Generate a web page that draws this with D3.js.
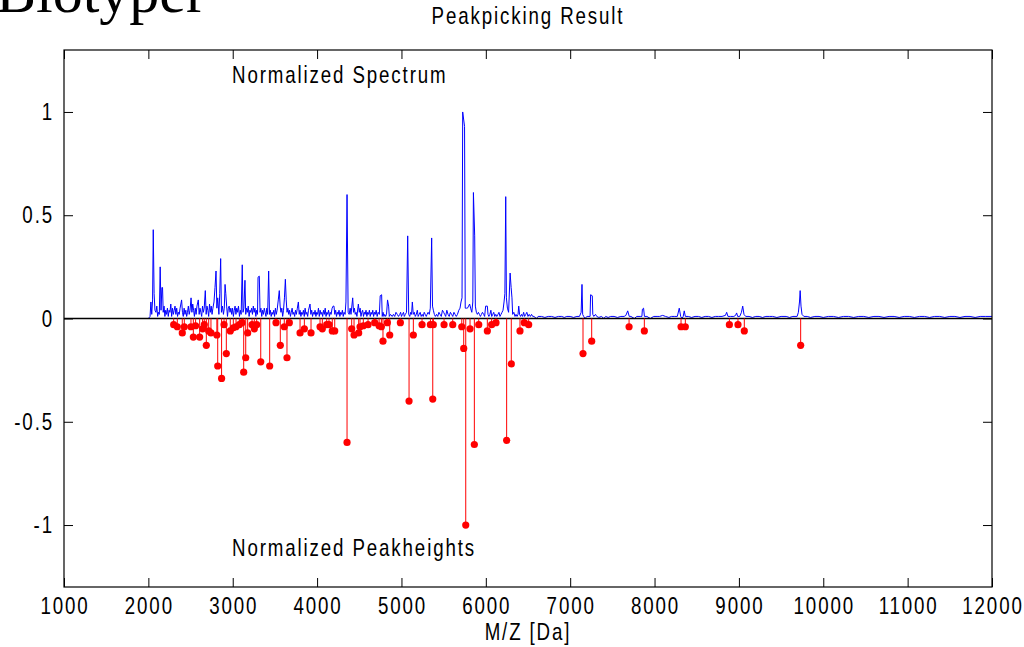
<!DOCTYPE html>
<html>
<head>
<meta charset="utf-8">
<script src="https://cdn.jsdelivr.net/npm/d3@7"></script>
<style>
  html, body { margin: 0; padding: 0; background: #fff; }
  svg { display: block; }
</style>
</head>
<body>
<div id="chart"></div>
<script>
// Tick values
const xTicks = [1000, 2000, 3000, 4000, 5000, 6000, 7000, 8000, 9000, 10000, 11000, 12000];
const yTicks = [-1, -0.5, 0, 0.5, 1];

// Normalized spectrum, [m/z, intensity]
const spectrum = [
  [2000, 0], [2020, 0.01], [2030, 0.08], [2040, 0.02], [2050, 0.09], [2058, 0.43], [2068, 0.12], [2078, 0.04],
  [2090, 0.03], [2100, 0.06], [2110, 0.01], [2120, 0.03], [2130, 0.02], [2140, 0.25], [2150, 0.04], [2160, 0.15],
  [2168, 0.15], [2176, 0.03], [2186, 0.06], [2196, 0.01], [2206, 0.04], [2216, 0.02], [2226, 0.05], [2236, 0.01],
  [2246, 0.04], [2256, 0.03], [2266, 0.07], [2276, 0.01], [2286, 0.05], [2296, 0.02], [2306, 0.04], [2316, 0.06],
  [2326, 0.02], [2336, 0.05], [2346, 0.01], [2356, 0.03], [2366, 0.02], [2376, 0.05], [2394, 0.09], [2404, 0.03],
  [2414, 0.01], [2424, 0.05], [2434, 0.02], [2444, 0.04], [2454, 0.01], [2464, 0.03], [2474, 0.06], [2484, 0.02],
  [2494, 0.04], [2506, 0.1], [2516, 0.03], [2526, 0.07], [2536, 0.04], [2546, 0.01], [2556, 0.05], [2566, 0.02],
  [2576, 0.06], [2592, 0.09], [2602, 0.02], [2612, 0.05], [2622, 0.03], [2632, 0.01], [2642, 0.06], [2652, 0.03],
  [2662, 0.05], [2675, 0.135], [2685, 0.02], [2695, 0.06], [2705, 0.04], [2715, 0.01], [2725, 0.07], [2735, 0.03],
  [2745, 0.06], [2755, 0.02], [2765, 0.05], [2778, 0.08], [2790, 0.15], [2802, 0.23], [2812, 0.05], [2822, 0.1],
  [2836, 0.02], [2846, 0.12], [2857, 0.29], [2866, 0.03], [2878, 0.06], [2890, 0.02], [2900, 0.05], [2909, 0.165],
  [2918, 0.12], [2928, 0.06], [2938, 0.01], [2948, 0.05], [2958, 0.06], [2968, 0.03], [2978, 0.05], [2988, 0.02],
  [2998, 0.05], [3008, 0.01], [3018, 0.04], [3028, 0.06], [3038, 0.02], [3048, 0.05], [3058, 0.03], [3068, 0.06],
  [3080, 0.01], [3090, 0.04], [3100, 0.02], [3113, 0.26], [3122, 0.03], [3132, 0.05], [3145, 0.185], [3154, 0.02],
  [3164, 0.05], [3174, 0.03], [3184, 0.06], [3194, 0.01], [3204, 0.04], [3214, 0.03], [3224, 0.05], [3234, 0.02],
  [3244, 0.06], [3254, 0.03], [3264, 0.05], [3274, 0.01], [3284, 0.04], [3294, 0.02], [3300, 0.2], [3315, 0.205],
  [3324, 0.03], [3334, 0.05], [3344, 0.01], [3354, 0.04], [3364, 0.02], [3374, 0.05], [3384, 0.03], [3394, 0.01],
  [3404, 0.05], [3414, 0.02], [3426, 0.23], [3436, 0.02], [3446, 0.04], [3456, 0.01], [3466, 0.03], [3476, 0.02],
  [3486, 0.04], [3496, 0.01], [3506, 0.05], [3516, 0.02], [3526, 0.04], [3540, 0.09], [3552, 0.135], [3562, 0.06],
  [3572, 0.03], [3582, 0.05], [3592, 0.01], [3602, 0.04], [3613, 0.1], [3624, 0.19], [3634, 0.09], [3644, 0.03],
  [3654, 0.05], [3664, 0.02], [3674, 0.04], [3684, 0.01], [3694, 0.03], [3704, 0.05], [3714, 0.02], [3724, 0.03],
  [3734, 0.01], [3744, 0.04], [3754, 0.02], [3766, 0.05], [3778, 0.08], [3788, 0.02], [3798, 0.04], [3808, 0.01],
  [3818, 0.03], [3828, 0.02], [3838, 0.04], [3848, 0.01], [3858, 0.05], [3868, 0.02], [3878, 0.03], [3888, 0.01],
  [3898, 0.04], [3916, 0.07], [3926, 0.02], [3936, 0.04], [3946, 0.01], [3956, 0.03], [3966, 0.02], [3976, 0.04],
  [3986, 0.01], [3996, 0.03], [4006, 0.02], [4016, 0.05], [4026, 0.01], [4036, 0.04], [4046, 0.02], [4056, 0.03],
  [4066, 0.01], [4076, 0.04], [4086, 0.02], [4096, 0.05], [4106, 0.01], [4116, 0.03], [4126, 0.02], [4136, 0.04],
  [4146, 0.01], [4156, 0.03], [4166, 0.02], [4178, 0.05], [4190, 0.06], [4200, 0.06], [4210, 0.02], [4220, 0.04],
  [4230, 0.01], [4240, 0.03], [4250, 0.02], [4260, 0.04], [4270, 0.01], [4280, 0.03], [4290, 0.02], [4300, 0.04],
  [4310, 0.01], [4320, 0.03], [4332, 0.02], [4342, 0.08], [4355, 0.6], [4368, 0.03], [4380, 0.02], [4392, 0.05],
  [4402, 0.02], [4422, 0.1], [4432, 0.03], [4442, 0.05], [4452, 0.02], [4462, 0.03], [4472, 0.01], [4489, 0.07],
  [4500, 0.03], [4510, 0.05], [4520, 0.01], [4530, 0.03], [4540, 0.04], [4550, 0.01], [4560, 0.03], [4570, 0.02],
  [4580, 0.04], [4590, 0.01], [4600, 0.03], [4610, 0.02], [4620, 0.04], [4630, 0.01], [4640, 0.03], [4650, 0.02],
  [4660, 0.04], [4670, 0.01], [4680, 0.03], [4690, 0.02], [4700, 0.04], [4712, 0.01], [4724, 0.03], [4738, 0.02],
  [4748, 0.11], [4765, 0.115], [4772, 0.01], [4782, 0.03], [4792, 0.01], [4802, 0.02], [4812, 0.01], [4823, 0.02],
  [4835, 0.09], [4848, 0.06], [4856, 0.01], [4870, 0.02], [4890, 0.01], [4905, 0.02], [4920, 0.01], [4935, 0.03],
  [4950, 0.02], [4965, 0.01], [4980, 0.02], [4990, 0.03], [5000, 0.01], [5012, 0.02], [5024, 0.03], [5034, 0.01],
  [5046, 0.02], [5060, 0.03], [5074, 0.4], [5086, 0.02], [5098, 0.01], [5110, 0.03], [5120, 0.02], [5129, 0.08],
  [5140, 0.02], [5152, 0.03], [5164, 0.01], [5176, 0.02], [5188, 0.04], [5198, 0.01], [5210, 0.02], [5222, 0.03],
  [5234, 0.01], [5246, 0.02], [5258, 0.01], [5270, 0.03], [5282, 0.02], [5294, 0.01], [5304, 0.02], [5316, 0.03],
  [5330, 0.02], [5342, 0.05], [5358, 0.39], [5368, 0.06], [5378, 0.04], [5390, 0.02], [5402, 0.01], [5416, 0.02],
  [5430, 0.01], [5444, 0.03], [5458, 0.02], [5472, 0.01], [5486, 0.04], [5500, 0.03], [5512, 0.02], [5524, 0.01],
  [5538, 0.04], [5552, 0.02], [5566, 0.01], [5580, 0.03], [5594, 0.02], [5608, 0.01], [5622, 0.03], [5636, 0.02],
  [5650, 0.01], [5664, 0.02], [5680, 0.04], [5694, 0.05], [5706, 0.08], [5718, 0.1], [5726, 1.0], [5748, 0.93],
  [5756, 0.05], [5770, 0.05], [5782, 0.05], [5796, 0.06], [5808, 0.07], [5820, 0.05], [5834, 0.03], [5846, 0.08],
  [5853, 0.61], [5868, 0.4], [5876, 0.06], [5888, 0.03], [5900, 0.02], [5912, 0.03], [5924, 0.02], [5936, 0.01],
  [5948, 0.02], [5960, 0.03], [5974, 0.02], [5986, 0.01], [5998, 0.06], [6018, 0.06], [6026, 0.02], [6036, 0.01],
  [6048, 0.02], [6060, 0.04], [6070, 0.01], [6082, 0.02], [6094, 0.03], [6106, 0.01], [6118, 0.02], [6130, 0.01],
  [6144, 0.02], [6156, 0.03], [6168, 0.01], [6180, 0.02], [6192, 0.03], [6204, 0.04], [6216, 0.08], [6226, 0.12],
  [6236, 0.59], [6244, 0.1], [6256, 0.05], [6270, 0.03], [6288, 0.22], [6300, 0.15], [6310, 0.1], [6318, 0.02],
  [6332, 0.03], [6346, 0.01], [6358, 0.02], [6370, 0.01], [6382, 0.02], [6390, 0.06], [6400, 0.02], [6412, 0.01],
  [6424, 0.02], [6436, 0.01], [6448, 0.03], [6460, 0.01], [6474, 0.02], [6486, 0.03], [6500, 0.01], [6514, 0.02],
  [6528, 0.01], [6542, 0.02], [6556, 0.01], [6570, 0.01], [6600, 0], [6620, 0.01], [6660, 0.01], [6700, 0.005],
  [6740, 0.01], [6780, 0.01], [6820, 0.005], [6860, 0.01], [6900, 0.01], [6930, 0.005], [6960, 0.01], [7000, 0.01],
  [7040, 0.005], [7080, 0.01], [7110, 0.01], [7130, 0.03], [7140, 0.165], [7148, 0.02], [7160, 0.01], [7175, 0],
  [7200, 0.01], [7236, 0.01], [7242, 0.115], [7262, 0.11], [7268, 0.02], [7280, 0.01], [7300, 0.02], [7315, 0.01],
  [7340, 0.005], [7370, 0.01], [7400, 0], [7420, 0.01], [7450, 0.005], [7480, 0.01], [7520, 0.01], [7560, 0.005],
  [7600, 0.01], [7640, 0.01], [7660, 0.015], [7682, 0.037], [7700, 0.01], [7720, 0.01], [7760, 0], [7790, 0.01],
  [7830, 0.01], [7850, 0.01], [7856, 0.045], [7870, 0.05], [7880, 0.01], [7910, 0.01], [7950, 0], [7990, 0.01],
  [8030, 0.01], [8060, 0.01], [8096, 0.015], [8130, 0.01], [8170, 0.005], [8200, 0.01], [8240, 0.01], [8270, 0.01],
  [8293, 0.05], [8310, 0.01], [8325, 0], [8340, 0.01], [8352, 0.037], [8365, 0.01], [8400, 0.01], [8440, 0.005],
  [8480, 0.01], [8520, 0.01], [8560, 0.005], [8600, 0.01], [8640, 0.01], [8680, 0.005], [8720, 0.01], [8760, 0.01],
  [8800, 0.01], [8840, 0.015], [8855, 0.03], [8870, 0.01], [8900, 0.01], [8940, 0.01], [8960, 0.015], [8973, 0.027],
  [8985, 0.01], [9010, 0.01], [9030, 0.03], [9045, 0.06], [9060, 0.02], [9080, 0.01], [9120, 0.01], [9160, 0.005],
  [9200, 0.01], [9240, 0.01], [9280, 0.005], [9320, 0.01], [9360, 0.01], [9400, 0.01], [9450, 0.005], [9500, 0.01],
  [9560, 0.01], [9600, 0.005], [9640, 0.01], [9690, 0.01], [9705, 0.03], [9718, 0.08], [9726, 0.135], [9736, 0.06],
  [9748, 0.02], [9770, 0.01], [9810, 0.01], [9850, 0.005], [9900, 0.01], [9950, 0.01], [10000, 0.005], [10060, 0.01],
  [10120, 0.01], [10180, 0.005], [10240, 0.01], [10300, 0.01], [10360, 0.005], [10420, 0.01], [10480, 0.01], [10540, 0.005],
  [10600, 0.01], [10660, 0.01], [10720, 0.005], [10780, 0.01], [10840, 0.01], [10900, 0.005], [10960, 0.01], [11020, 0.01],
  [11080, 0.005], [11140, 0.01], [11200, 0.01], [11260, 0.005], [11320, 0.01], [11380, 0.01], [11440, 0.005], [11500, 0.01],
  [11560, 0.01], [11620, 0.005], [11680, 0.01], [11740, 0.01], [11800, 0.005], [11860, 0.01], [11920, 0.01], [12000, 0.01]
];

// Picked peaks, [m/z, normalized height] (drawn downwards)
const peaks = [
  [2300, 0.03], [2343, 0.04], [2402, 0.07], [2426, 0.04], [2505, 0.04], [2533, 0.09], [2560, 0.035], [2608, 0.09],
  [2643, 0.05], [2663, 0.03], [2687, 0.13], [2715, 0.06], [2742, 0.07], [2812, 0.08], [2822, 0.23], [2868, 0.29],
  [2897, 0.03], [2924, 0.17], [2971, 0.06], [3007, 0.045], [3039, 0.04], [3078, 0.03], [3110, 0.02], [3130, 0.26],
  [3154, 0.19], [3177, 0.07], [3229, 0.03], [3256, 0.05], [3284, 0.03], [3332, 0.21], [3438, 0.23], [3513, 0.02],
  [3564, 0.13], [3611, 0.04], [3643, 0.19], [3671, 0.02], [3798, 0.07], [3849, 0.05], [3928, 0.07], [4035, 0.04],
  [4062, 0.05], [4114, 0.03], [4141, 0.03], [4180, 0.06], [4209, 0.06], [4355, 0.6], [4410, 0.05], [4438, 0.08],
  [4493, 0.07], [4509, 0.04], [4548, 0.035], [4604, 0.03], [4683, 0.02], [4735, 0.035], [4762, 0.04], [4781, 0.11],
  [4833, 0.02], [4861, 0.08], [4987, 0.02], [5090, 0.4], [5141, 0.08], [5244, 0.03], [5343, 0.03], [5371, 0.39],
  [5378, 0.03], [5505, 0.03], [5608, 0.03], [5715, 0.04], [5738, 0.145], [5762, 1.0], [5813, 0.05], [5864, 0.61],
  [5916, 0.03], [6018, 0.06], [6069, 0.03], [6121, 0.02], [6247, 0.59], [6302, 0.22], [6405, 0.06], [6456, 0.02],
  [6508, 0.03], [7152, 0.17], [7255, 0.11], [7698, 0.04], [7879, 0.06], [8314, 0.04], [8365, 0.04], [8887, 0.03],
  [8989, 0.03], [9064, 0.06], [9732, 0.13]
];

const width = 1024, height = 647;
const plot = {left: 64, right: 992, top: 50, bottom: 587};
const FONT = '"Liberation Sans", Arial, Helvetica, sans-serif';
const SQUEEZE = 'scale(0.78,1)';

const svg = d3.select('#chart').append('svg')
  .attr('width', width)
  .attr('height', height);

const x = d3.scaleLinear().domain([1000, 12000]).range([plot.left, plot.right]);
const y = d3.scaleLinear().domain([-1.3, 1.3]).range([plot.bottom, plot.top]);

// Label text in the condensed, letter-spaced style of the original export
function label(g, tx, ty, str, anchor) {
  g.append('g')
    .attr('transform', `translate(${tx},${ty})`)
    .append('text')
    .attr('transform', SQUEEZE)
    .attr('text-anchor', anchor || 'start')
    .style('font-family', FONT)
    .style('font-size', '24px')
    .style('letter-spacing', '2.4px')
    .attr('fill', '#000')
    .text(str);
}

// Cut-off heading from the page the chart sits on
svg.append('text')
  .attr('x', -4)
  .attr('y', 12)
  .style('font-family', '"Liberation Serif", "Times New Roman", serif')
  .style('font-size', '60px')
  .attr('fill', '#000')
  .text('Biotyper');

// Spectrum
const line = d3.line().x(d => x(d[0])).y(d => y(d[1]));
svg.append('path')
  .datum(spectrum)
  .attr('d', line)
  .attr('fill', 'none')
  .attr('stroke', '#0000ff')
  .attr('stroke-width', 1)
  .attr('stroke-linejoin', 'miter');

// Zero line
svg.append('line')
  .attr('x1', x(1000)).attr('x2', x(12000))
  .attr('y1', y(0)).attr('y2', y(0))
  .attr('stroke', '#000')
  .attr('stroke-width', 1.3);

// Peak stems and markers
const peakG = svg.append('g');
peakG.selectAll('line')
  .data(peaks)
  .enter().append('line')
  .attr('x1', d => x(d[0])).attr('x2', d => x(d[0]))
  .attr('y1', y(0)).attr('y2', d => y(-d[1]))
  .attr('stroke', '#ff0000')
  .attr('stroke-width', 1);

peakG.selectAll('circle')
  .data(peaks)
  .enter().append('circle')
  .attr('cx', d => x(d[0]))
  .attr('cy', d => y(-d[1]))
  .attr('r', 3.6)
  .attr('fill', '#ff0000');

// Axes: inward ticks on all four sides
const TICK = 9;
const axisStyle = g => {
  g.select('.domain').remove();
  g.selectAll('.tick line').attr('stroke', '#000').attr('stroke-width', 1);
};

svg.append('g')
  .attr('transform', `translate(0,${plot.bottom})`)
  .call(d3.axisBottom(x).tickValues(xTicks).tickSize(-TICK).tickFormat(''))
  .call(axisStyle);
svg.append('g')
  .attr('transform', `translate(0,${plot.top})`)
  .call(d3.axisTop(x).tickValues(xTicks).tickSize(-TICK).tickFormat(''))
  .call(axisStyle);
svg.append('g')
  .attr('transform', `translate(${plot.left},0)`)
  .call(d3.axisLeft(y).tickValues(yTicks).tickSize(-TICK).tickFormat(''))
  .call(axisStyle);
svg.append('g')
  .attr('transform', `translate(${plot.right},0)`)
  .call(d3.axisRight(y).tickValues(yTicks).tickSize(-TICK).tickFormat(''))
  .call(axisStyle);

// Frame
svg.append('rect')
  .attr('x', plot.left).attr('y', plot.top)
  .attr('width', plot.right - plot.left)
  .attr('height', plot.bottom - plot.top)
  .attr('fill', 'none')
  .attr('stroke', '#000')
  .attr('stroke-width', 1.2);

// Tick labels
xTicks.forEach(v => label(svg, x(v) + 1, plot.bottom + 27, String(v), 'middle'));
yTicks.forEach(v => label(svg, plot.left - 10, y(v) + 8, String(v), 'end'));

// Titles and annotations
label(svg, 528, 24, 'Peakpicking Result', 'middle');
label(svg, 528, 640, 'M/Z [Da]', 'middle');
label(svg, 232, 83, 'Normalized Spectrum');
label(svg, 232, 556, 'Normalized Peakheights');
</script>
</body>
</html>
